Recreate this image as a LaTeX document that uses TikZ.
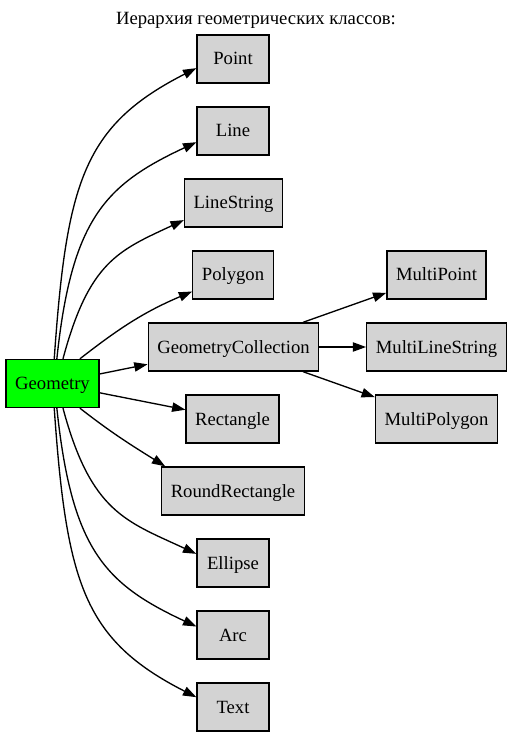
\documentclass[tikz,border=0pt]{standalone}
\usepackage{fontspec}
\setmainfont{Liberation Serif}
\usetikzlibrary{arrows.meta}

\definecolor{clsgray}{HTML}{D3D3D3}
\definecolor{rootgreen}{HTML}{00FF00}
\tikzset{
  cls/.style={draw, line width=1pt, fill=clsgray, minimum width=54pt, minimum height=36pt, inner xsep=6.8pt, text height=12pt, text depth=3pt, font=\fontsize{14}{16}\selectfont},
  edge/.style={line width=1pt, -{Triangle[length=10pt,width=7pt]}},
  curvedge/.style={edge, out looseness=1.4, in looseness=1}
}

\begin{document}
\begin{tikzpicture}[x=0.75pt,y=-0.75pt]
\useasboundingbox (0,0) rectangle (512,737);
\node[font=\fontsize{14}{16}\selectfont] (title) at (256,20) {Иерархия геометрических классов:};

% root
\node[cls, fill=rootgreen] (geo) at (52.5,383.5) {Geometry};

% first level
\node[cls] (point) at (233,59) {Point};
\node[cls] (line) at (233,131) {Line};
\node[cls] (linestr) at (233.5,203) {LineString};
\node[cls] (polygon) at (233,275) {Polygon};
\node[cls] (gc) at (233.5,347) {GeometryCollection};
\node[cls] (rect) at (232.5,419) {Rectangle};
\node[cls] (rrect) at (233,491) {RoundRectangle};
\node[cls] (ellipse) at (233,563) {Ellipse};
\node[cls] (arc) at (233,635) {Arc};
\node[cls] (text) at (233,707) {Text};

% second level
\node[cls] (mpoint) at (436.5,275) {MultiPoint};
\node[cls] (mline) at (436.5,347) {MultiLineString};
\node[cls] (mpoly) at (436.5,419) {MultiPolygon};

% edges up
\draw[curvedge] (geo.86) to[out=86, in=207] (point.194);
\draw[curvedge] (geo.80) to[out=84, in=205] (line.197);
\draw[curvedge] (geo.67) to[out=75, in=205] (linestr.199);
\draw[edge] (geo.42) to[out=38, in=203] (polygon.202);
% edges straight
\draw[edge] (geo) -- (gc);
\draw[edge] (geo) -- (rect);
% edges down
\draw[edge] (geo.-42) to[out=-38, in=148] (rrect.160);
\draw[curvedge] (geo.-67) to[out=-75, in=155] (ellipse.166);
\draw[curvedge] (geo.-80) to[out=-84, in=155] (arc.167);
\draw[curvedge] (geo.-86) to[out=-86, in=153] (text.165);

% collection
\draw[edge] (gc) -- (mpoint);
\draw[edge] (gc) -- (mline);
\draw[edge] (gc) -- (mpoly);
\end{tikzpicture}
\end{document}
